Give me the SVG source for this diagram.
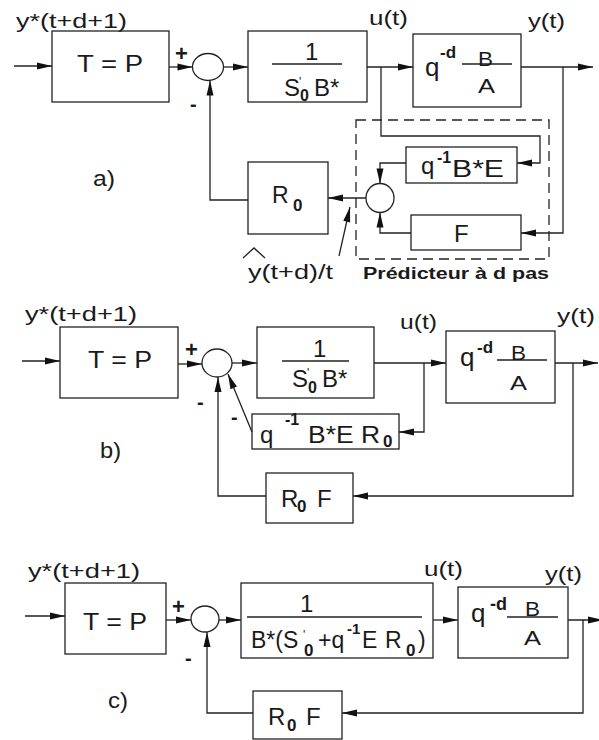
<svg xmlns="http://www.w3.org/2000/svg" width="599" height="740" viewBox="0 0 599 740">
<style>
text{font-family:"Liberation Sans",Arial,sans-serif;fill:#1a1a1a}
.t20{font-size:20px}
.t21{font-size:21px}
.t22{font-size:22px}
.t23{font-size:23px}
.t24{font-size:24px}
.t26{font-size:26px}
.b{font-weight:bold}
.s16{font-size:16px}
.pr{font-size:12px}
.box{fill:none;stroke:#222;stroke-width:1.3}
.ln{fill:none;stroke:#222;stroke-width:1.3}
.arr{fill:none;stroke:#222;stroke-width:1.3;marker-end:url(#ah)}
.dash{fill:none;stroke:#222;stroke-width:1.3;stroke-dasharray:10,6}
</style>
<defs>
<marker id="ah" markerUnits="userSpaceOnUse" markerWidth="15" markerHeight="8" refX="15" refY="4" orient="auto" overflow="visible">
<path d="M0,0.5 L15,4 L0,7.5 z" fill="#111"/>
</marker>
</defs>

<!-- ===== a) ===== -->
<g id="a_labels">
<text class="t21" x="16" y="28" textLength="111" lengthAdjust="spacingAndGlyphs">y*(t+d+1)</text>
<text class="t21" x="369" y="25" textLength="39" lengthAdjust="spacingAndGlyphs">u(t)</text>
<text class="t21" x="528" y="28" textLength="37" lengthAdjust="spacingAndGlyphs">y(t)</text>
<text class="t22" x="93" y="186" textLength="22" lengthAdjust="spacingAndGlyphs">a)</text>
<text class="t22 b" x="175" y="61">+</text>
<text class="t20 b" x="190" y="111">-</text>
<text class="t21" x="248" y="279" textLength="85" lengthAdjust="spacingAndGlyphs">y(t+d)/t</text>
<polyline class="ln" points="243,258 254,248 265,258"/>
<text class="b" style="font-size:16px" x="363" y="279" textLength="186" lengthAdjust="spacingAndGlyphs">Prédicteur à d pas</text>
</g>
<g id="a_T">
<rect class="box" x="52" y="31" width="117" height="71"/>
<text class="t24" x="77" y="72" textLength="66" lengthAdjust="spacingAndGlyphs">T = P</text>
</g>
<g id="a_sum">
<ellipse class="box" cx="208" cy="67" rx="15.5" ry="13.5"/>
</g>
<g id="a_C">
<rect class="box" x="248" y="31" width="119" height="71"/>
<text class="t24" x="305" y="60">1</text>
<line class="ln" x1="272" y1="64" x2="342" y2="64"/>
<text class="t24" x="284" y="96">S<tspan class="pr" x="299" y="86">'</tspan><tspan class="b s16" x="300" y="101">0</tspan><tspan x="314" y="96">B*</tspan></text>
</g>
<g id="a_P">
<rect class="box" x="413" y="34" width="108" height="73"/>
<text class="t26" x="425" y="76">q<tspan class="b" style="font-size:17px" x="440" y="58">-d</tspan></text>
<line class="ln" x1="462" y1="64" x2="512" y2="64"/>
<text class="t21" x="478" y="66" textLength="15" lengthAdjust="spacingAndGlyphs">B</text>
<text class="t21" x="478" y="93" textLength="17" lengthAdjust="spacingAndGlyphs">A</text>
</g>
<g id="a_Q">
<rect class="box" x="406" y="147" width="111" height="36"/>
<text class="t24" x="421" y="174">q<tspan class="b s16" x="437" y="163">-1</tspan><tspan x="452" y="177" textLength="52" lengthAdjust="spacingAndGlyphs">B*E</tspan></text>
</g>
<g id="a_F">
<rect class="box" x="411" y="215" width="110" height="35"/>
<text class="t24" x="454" y="242">F</text>
</g>
<g id="a_sum2">
<ellipse class="box" cx="380" cy="198" rx="14" ry="14.5"/>
</g>
<g id="a_R0">
<rect class="box" x="248" y="162" width="80" height="72"/>
<text class="t23" x="272" y="203">R<tspan class="b" style="font-size:17px" x="293" y="211">0</tspan></text>
</g>
<g id="a_pred">
<rect class="dash" x="356" y="120" width="193" height="139"/>
</g>
<g id="a_connectors">
<line class="arr" x1="14" y1="66" x2="52" y2="66"/>
<line class="arr" x1="169" y1="67" x2="192.5" y2="67"/>
<line class="arr" x1="223.5" y1="67" x2="248" y2="67"/>
<line class="arr" x1="367" y1="67" x2="413" y2="67"/>
<line class="arr" x1="521" y1="67" x2="593" y2="67"/>
<polyline class="arr" points="563,67 563,233 521,233"/>
<polyline class="arr" points="381,67 381,136 540,136 540,163 517,163"/>
<polyline class="arr" points="406,163 380,163 380,183.5"/>
<polyline class="arr" points="411,233 380,233 380,212.5"/>
<line class="arr" x1="366" y1="198" x2="328" y2="198"/>
<polyline class="arr" points="248,200 210,200 210,80.5"/>
<line class="arr" x1="339" y1="256" x2="350" y2="207"/>
</g>

<!-- ===== b) ===== -->
<g id="b_labels">
<text class="t21" x="25" y="321" textLength="112" lengthAdjust="spacingAndGlyphs">y*(t+d+1)</text>
<text class="t21" x="400" y="329" textLength="37" lengthAdjust="spacingAndGlyphs">u(t)</text>
<text class="t21" x="557" y="323" textLength="38" lengthAdjust="spacingAndGlyphs">y(t)</text>
<text class="t22" x="100" y="458" textLength="21" lengthAdjust="spacingAndGlyphs">b)</text>
<text class="t22 b" x="185" y="357">+</text>
<text class="t20 b" x="197" y="409">-</text>
<text class="t20 b" x="231" y="424">-</text>
</g>
<g id="b_T">
<rect class="box" x="60" y="327" width="118" height="71"/>
<text class="t24" x="88" y="368" textLength="64" lengthAdjust="spacingAndGlyphs">T = P</text>
</g>
<g id="b_sum">
<ellipse class="box" cx="217" cy="363" rx="15" ry="14"/>
</g>
<g id="b_C">
<rect class="box" x="257" y="327" width="117" height="71"/>
<text class="t24" x="313" y="357">1</text>
<line class="ln" x1="282" y1="361" x2="349" y2="361"/>
<text class="t24" x="292" y="387">S<tspan class="pr" x="307" y="377">'</tspan><tspan class="b s16" x="308" y="393">0</tspan><tspan x="322" y="387">B*</tspan></text>
</g>
<g id="b_P">
<rect class="box" x="446" y="331" width="109" height="72"/>
<text class="t26" x="460" y="366">q<tspan class="b" style="font-size:17px" x="477" y="353">-d</tspan></text>
<line class="ln" x1="497" y1="360" x2="547" y2="360"/>
<text class="t21" x="511" y="360" textLength="15" lengthAdjust="spacingAndGlyphs">B</text>
<text class="t21" x="510" y="390" textLength="17" lengthAdjust="spacingAndGlyphs">A</text>
</g>
<g id="b_Q">
<rect class="box" x="252" y="414" width="147" height="35"/>
<text class="t24" x="260" y="443">q<tspan class="b s16" x="285" y="425">-1</tspan><tspan x="308" y="443" textLength="72" lengthAdjust="spacingAndGlyphs">B*E R</tspan><tspan class="b" style="font-size:17px" x="383" y="447">0</tspan></text>
</g>
<g id="b_RF">
<rect class="box" x="266" y="473" width="87" height="50"/>
<text class="t24" x="281" y="507">R<tspan class="b" style="font-size:17px" x="297" y="512">0</tspan><tspan x="317" y="507">F</tspan></text>
</g>
<g id="b_connectors">
<line class="arr" x1="22" y1="361" x2="60" y2="361"/>
<line class="arr" x1="178" y1="364" x2="202" y2="364"/>
<line class="arr" x1="232" y1="363" x2="257" y2="363"/>
<line class="arr" x1="374" y1="363" x2="446" y2="363"/>
<line class="arr" x1="555" y1="363" x2="598" y2="363"/>
<polyline class="arr" points="424,363 424,432 399,432"/>
<line class="arr" x1="252" y1="432" x2="228" y2="374"/>
<polyline class="arr" points="266,496 218,496 218,377"/>
<polyline class="arr" points="573,363 573,496 353,496"/>
</g>

<!-- ===== c) ===== -->
<g id="c_labels">
<text class="t21" x="28" y="578" textLength="112" lengthAdjust="spacingAndGlyphs">y*(t+d+1)</text>
<text class="t21" x="424" y="576" textLength="39" lengthAdjust="spacingAndGlyphs">u(t)</text>
<text class="t21" x="545" y="581" textLength="37" lengthAdjust="spacingAndGlyphs">y(t)</text>
<text class="t22" x="108" y="708" textLength="20" lengthAdjust="spacingAndGlyphs">c)</text>
<text class="t22 b" x="172" y="614">+</text>
<text class="t20 b" x="185" y="665">-</text>
</g>
<g id="c_T">
<rect class="box" x="65" y="583" width="101" height="71"/>
<text class="t24" x="83" y="630" textLength="64" lengthAdjust="spacingAndGlyphs">T = P</text>
</g>
<g id="c_sum">
<ellipse class="box" cx="205" cy="619" rx="14" ry="13"/>
</g>
<g id="c_C">
<rect class="box" x="241" y="583" width="192" height="75"/>
<text class="t24" x="300" y="612">1</text>
<line class="ln" x1="247" y1="617" x2="422" y2="617"/>
<text class="t23" x="251" y="648">B*(S<tspan class="pr" x="303" y="639">'</tspan><tspan class="b" style="font-size:17px" x="304" y="656">0</tspan><tspan x="318" y="648">+q</tspan><tspan class="b" style="font-size:15px" x="347" y="634">-1</tspan><tspan x="362" y="648">E</tspan><tspan x="385" y="648">R</tspan><tspan class="b" style="font-size:17px" x="406" y="656">0</tspan><tspan x="418" y="648">)</tspan></text>
</g>
<g id="c_P">
<rect class="box" x="458" y="587" width="110" height="71"/>
<text class="t26" x="471" y="622">q<tspan class="b" style="font-size:18px" x="490" y="610">-d</tspan></text>
<line class="ln" x1="507" y1="617" x2="558" y2="617"/>
<text class="t21" x="525" y="616" textLength="15" lengthAdjust="spacingAndGlyphs">B</text>
<text class="t21" x="524" y="645" textLength="17" lengthAdjust="spacingAndGlyphs">A</text>
</g>
<g id="c_RF">
<rect class="box" x="253" y="691" width="89" height="48"/>
<text class="t24" x="268" y="725">R<tspan class="b" style="font-size:17px" x="287" y="731">0</tspan><tspan x="306" y="725">F</tspan></text>
</g>
<g id="c_connectors">
<line class="arr" x1="25" y1="616" x2="65" y2="616"/>
<line class="arr" x1="166" y1="620" x2="191" y2="620"/>
<line class="arr" x1="219" y1="620" x2="241" y2="620"/>
<line class="arr" x1="433" y1="620" x2="458" y2="620"/>
<line class="arr" x1="568" y1="620" x2="603" y2="620"/>
<polyline class="arr" points="583,620 583,713 342,713"/>
<polyline class="arr" points="253,713 207,713 207,632"/>
</g>
</svg>
